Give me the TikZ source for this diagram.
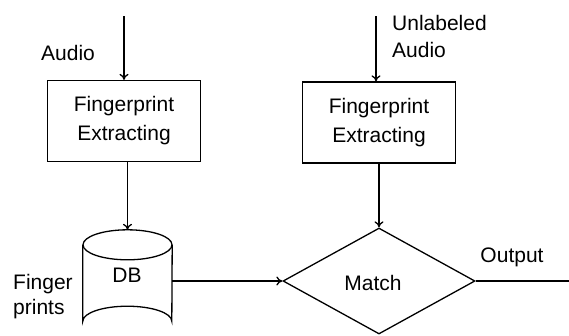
\documentclass[tikz,border=0pt]{standalone}
\usepackage{fontspec}
\setmainfont{Liberation Sans}
\usetikzlibrary{shapes.geometric,arrows.meta}
\begin{document}
\begin{tikzpicture}[x=1pt,y=-1pt,
  every node/.style={inner sep=0pt},
  flow/.style={line width=1.3pt},
  arr/.style={flow,-{To[length=6pt,width=9pt]}},
  procbox/.style={draw,line width=1.3pt,minimum width=153pt,minimum height=81pt,
    align=center,font=\fontsize{21}{29}\selectfont},
  lbl/.style={font=\fontsize{21}{27}\selectfont}]
  \useasboundingbox (0,0) rectangle (569,335);
  \clip (0,0) rectangle (569,335);

  % processing boxes
  \node[procbox] (fe1) at (124,121) {Fingerprint\\Extracting};
  \node[procbox] (fe2) at (379,122.5) {Fingerprint\\Extracting};

  % fingerprint database: a cylinder drawn around an invisible frame node
  \node[minimum width=89pt,minimum height=106pt] (db) at (127.5,283) {};
  \draw[flow] ([yshift=-15pt]db.north) ellipse [x radius=44.5pt, y radius=15pt];
  \draw[flow] ([yshift=-15pt]db.north west) -- ([yshift=15pt]db.south west)
    arc[start angle=180, end angle=0, x radius=44.5pt, y radius=15pt]
    -- ([yshift=-15pt]db.north east);
  \node[lbl] (dbt) at (127,275) {DB};

  % matching step
  \node[draw,line width=1.3pt,diamond,minimum width=192pt,minimum height=106pt] (match) at (379,281) {};
  \node[lbl] (mt) at (373,283) {Match};

  % free ends
  \coordinate (inL) at (124,16);
  \coordinate (inR) at (376,16);
  \coordinate (outR) at (575,281);

  % connectors
  \draw[arr] (inL) -- (fe1.north);
  \draw[arr] (inR) -- (inR |- fe2.north);
  \draw[arr] (db.north |- fe1.south) -- (db.north);
  \draw[arr] (fe2.south) -- (match.north);
  \draw[arr] (db.east |- match.west) -- (match.west);
  \draw[flow] (match.east) -- (outR);

  % labels
  \node[lbl] (la) at (68,53) {Audio};
  \node[lbl,anchor=west,align=left] (lu) at (392,36) {Unlabeled\\Audio};
  \node[lbl,anchor=west,align=left,font=\fontsize{21}{25}\selectfont] (lf) at (13,297) {Finger\\prints};
  \node[lbl] (lo) at (512,257) {Output};
\end{tikzpicture}
\end{document}
